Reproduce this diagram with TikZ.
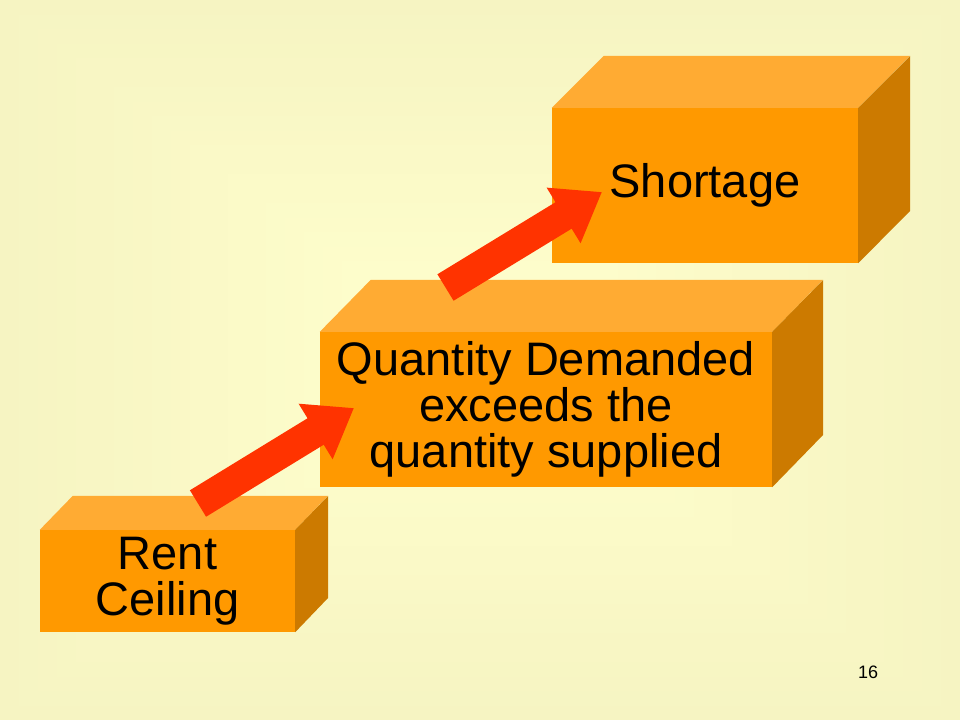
\documentclass[tikz,border=0pt]{standalone}
\usepackage{fontspec}
\setmainfont{Liberation Sans}
\usetikzlibrary{arrows.meta}
\definecolor{bgout}{HTML}{F6F4C2}
\definecolor{bgin}{HTML}{FFFFCD}
\definecolor{boxfront}{HTML}{FF9900}
\definecolor{boxtop}{HTML}{FFAB33}
\definecolor{boxside}{HTML}{CC7A00}
\definecolor{arrowred}{HTML}{FF3300}
\begin{document}
\begin{tikzpicture}[x=1pt,y=-1pt,
  frontface/.style={fill=boxfront, draw=none, inner sep=0pt, align=center,
    font=\fontsize{47}{46}\selectfont},
  topface/.style={fill=boxtop},
  sideface/.style={fill=boxside},
  bigarrow/.style={draw=arrowred, line width=31pt,
    -{Triangle[length=45pt,width=62pt,fill=arrowred]}}]
\useasboundingbox (0,0) rectangle (960,720);
% background: rectangular gradient from the edges to the centre
\foreach \i in {0,...,23}{
  \pgfmathsetmacro\p{\i/23*100}
  \fill[bgin!\p!bgout] (\i*19,\i*14.5) rectangle (960-\i*19,720-\i*14.5);
}
% Box 1: Rent Ceiling
\node[frontface, minimum width=255pt, minimum height=102pt] (rc) at (167.5,581) {Rent\\Ceiling};
\fill[topface] (rc.north west) -- ++(33,-34) -- ++(255,0) -- (rc.north east) -- cycle;
\fill[sideface] (rc.north east) -- ++(33,-34) -- ++(0,102) -- (rc.south east) -- cycle;
% Box 2: Quantity demanded
\node[frontface, minimum width=452pt, minimum height=155pt] (qd) at (546,409.5)
  {Quantity Demanded\\exceeds the\\quantity supplied};
\fill[topface] (qd.north west) -- ++(51,-52) -- ++(452,0) -- (qd.north east) -- cycle;
\fill[sideface] (qd.north east) -- ++(51,-52) -- ++(0,155) -- (qd.south east) -- cycle;
% Box 3: Shortage
\node[frontface, minimum width=306pt, minimum height=155pt] (sh) at (705,185.5) {Shortage};
\fill[topface] (sh.north west) -- ++(52,-52) -- ++(306,0) -- (sh.north east) -- cycle;
\fill[sideface] (sh.north east) -- ++(52,-52) -- ++(0,155) -- (sh.south east) -- cycle;
% arrows
\coordinate (a1s) at (198,503.5);
\coordinate (a1e) at (354,408);
\coordinate (a2s) at (445.5,287.5);
\coordinate (a2e) at (602,192);
\draw[bigarrow] (a1s) -- (a1e);
\draw[bigarrow] (a2s) -- (a2e);
% page number
\node[font=\fontsize{18}{20}\selectfont, inner sep=0pt] (pg) at (868,672) {16};
\end{tikzpicture}
\end{document}
